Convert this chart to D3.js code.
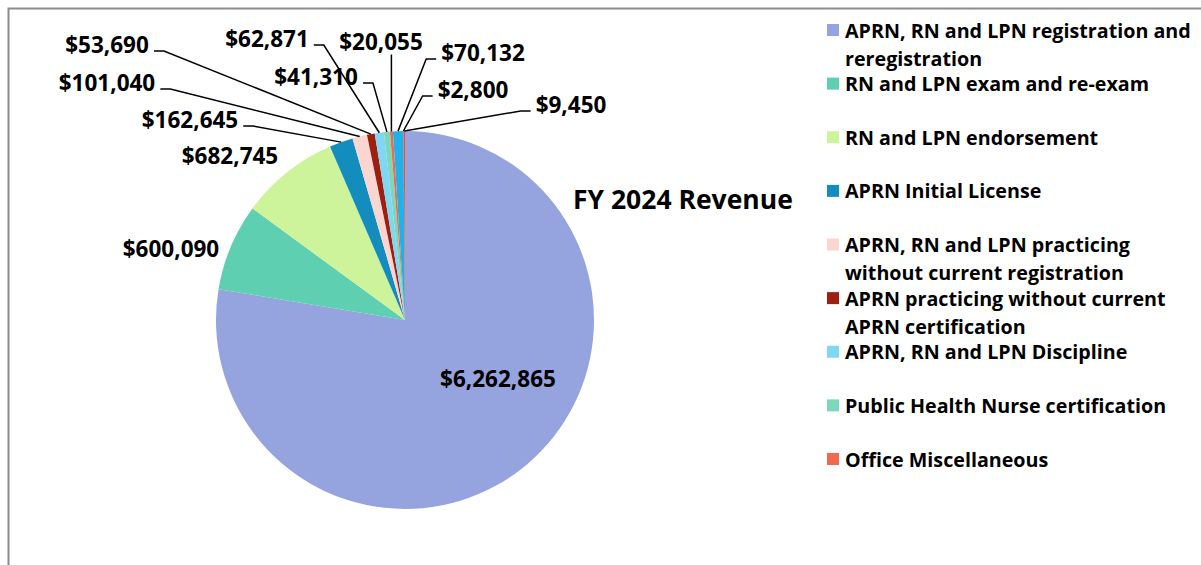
<!DOCTYPE html>
<html>
<head>
<meta charset="utf-8">
<script src="https://cdn.jsdelivr.net/npm/d3@7"></script>
<style>
  body { margin: 0; background: #fff; }
  text { font-family: "Open Sans", Lato, sans-serif; font-weight: bold; fill: #000; }
</style>
</head>
<body>
<div id="chart"></div>
<script>
// data
const categories = [
  "APRN, RN and LPN registration and reregistration",
  "RN and LPN exam and re-exam",
  "RN and LPN endorsement",
  "APRN Initial License",
  "APRN, RN and LPN practicing without current registration",
  "APRN practicing without current APRN certification",
  "APRN, RN and LPN Discipline",
  "Public Health Nurse certification",
  "Office Miscellaneous",
  "Other fees",
  "Other fees 2",
  "Other fees 3"
];
const revenue = [6262865, 600090, 682745, 162645, 101040, 53690, 62871, 41310, 20055, 70132, 2800, 9450];
// legend only shows the first 9 (cut off in original)
const legendLines = [
  ["APRN, RN and LPN registration and", "reregistration"],
  ["RN and LPN exam and re-exam"],
  ["RN and LPN endorsement"],
  ["APRN Initial License"],
  ["APRN, RN and LPN practicing", "without current registration"],
  ["APRN practicing without current", "APRN certification"],
  ["APRN, RN and LPN Discipline"],
  ["Public Health Nurse certification"],
  ["Office Miscellaneous"]
];
const colors = ["#95a3df", "#5ecfb1", "#cdf49a", "#138dbd", "#fbd6d1", "#9c1f10",
                "#7fd7f4", "#7dd8bb", "#f2694e", "#1db2ea", "#c0392b", "#e9543a"];
const title = "FY 2024 Revenue";

// label layout (text centers)
const labelPos = [
  [498, 378], [171, 248], [230, 155], [190, 119], [107, 82], [107, 44],
  [267, 38], [316, 76], [381, 41], [483, 52], [473, 89], [571, 104]
];
const hasLeader = [false, false, false, true, true, true, true, true, true, true, true, true];

const width = 1201, height = 565;
const cx = 405, cy = 320, radius = 189;

const svg = d3.select("#chart").append("svg")
  .attr("width", width)
  .attr("height", height);

// chart border (top and left visible)
svg.append("rect")
  .attr("x", 8.5).attr("y", 8.5)
  .attr("width", width).attr("height", height)
  .attr("fill", "none")
  .attr("stroke", "#8c8c8c")
  .attr("stroke-width", 2);

const pie = d3.pie().sort(null).value(d => d);
const arcs = pie(revenue);
const arc = d3.arc().innerRadius(0).outerRadius(radius);

const g = svg.append("g").attr("transform", `translate(${cx},${cy})`);
g.selectAll("path.slice")
  .data(arcs)
  .enter()
  .append("path")
  .attr("class", "slice")
  .attr("d", arc)
  .attr("fill", (d, i) => colors[i]);

const fmt = d3.format("$,");

// labels
const labels = svg.append("g").selectAll("text")
  .data(arcs)
  .enter()
  .append("text")
  .attr("x", (d, i) => labelPos[i][0])
  .attr("y", (d, i) => labelPos[i][1])
  .attr("text-anchor", "middle")
  .attr("dominant-baseline", "central")
  .style("font-size", "22.5px")
  .text(d => fmt(d.value));

// leader lines
const leaders = svg.append("g");
labels.each(function(d, i) {
  if (!hasLeader[i]) return;
  const bb = this.getBBox();
  const mid = (d.startAngle + d.endAngle) / 2;
  const px = cx + radius * Math.sin(mid);
  const py = cy - radius * Math.cos(mid);
  let pts;
  if (px > bb.x && px < bb.x + bb.width) {
    pts = [[px, bb.y + bb.height - 2], [px, py]];
  } else if (px > bb.x + bb.width) {
    const sx = bb.x + bb.width + 5, sy = labelPos[i][1] + 7;
    pts = [[sx, sy], [sx + 10, sy], [px, py]];
  } else {
    const sx = bb.x - 5, sy = labelPos[i][1] + 7;
    pts = [[sx, sy], [sx - 10, sy], [px, py]];
  }
  leaders.append("path")
    .attr("d", d3.line()(pts))
    .attr("fill", "none")
    .attr("stroke", "#000")
    .attr("stroke-width", 1.5);
});

// title
svg.append("text")
  .attr("x", 573)
  .attr("y", 199)
  .attr("dominant-baseline", "central")
  .style("font-size", "26.5px")
  .text(title);

// legend
const legendY = d3.scalePoint()
  .domain(d3.range(legendLines.length))
  .range([30, 459]);

const legend = svg.append("g").selectAll("g")
  .data(legendLines)
  .enter()
  .append("g")
  .attr("transform", (d, i) => `translate(827,${legendY(i)})`);

legend.append("rect")
  .attr("x", 0).attr("y", -6)
  .attr("width", 12).attr("height", 12)
  .attr("fill", (d, i) => colors[i]);

legend.each(function(lines) {
  const t = d3.select(this).append("text")
    .attr("x", 18)
    .attr("y", 0)
    .style("font-size", "19.7px");
  lines.forEach((s, j) => {
    t.append("tspan")
      .attr("x", 18)
      .attr("y", j * 28)
      .attr("dominant-baseline", "central")
      .text(s);
  });
});
</script>
</body>
</html>
